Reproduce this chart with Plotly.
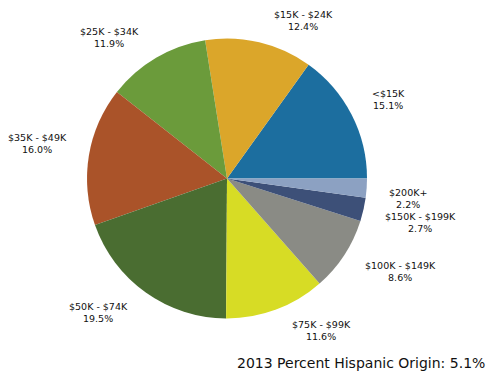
import math
import plotly.graph_objects as go

# ---- data ----
categories = ["<$15K", "$15K - $24K", "$25K - $34K", "$35K - $49K", "$50K - $74K",
              "$75K - $99K", "$100K - $149K", "$150K - $199K", "$200K+"]
percents = [15.1, 12.4, 11.9, 16.0, 19.5, 11.6, 8.6, 2.7, 2.2]
colors = ["#1C6E9F", "#DBA62A", "#6B9B3B", "#AA5329", "#4A6D31",
          "#D7DC25", "#8A8B85", "#3D5078", "#8CA1C2"]
footer_text = "2013 Percent Hispanic Origin: 5.1%"

# ---- layout geometry (pixels) ----
W, H = 489, 375
cx, cy, R = 227, 178.5, 140
lab_rx, lab_ry, gap = 150, 152, 10

total = sum(percents)
# plotly ends the first counterclockwise slice at the rotation angle;
# shift so the first slice starts at 3 o'clock
rotation = 90 - percents[0] / total * 360

fig = go.Figure()
fig.add_trace(go.Pie(
    labels=categories, values=percents, sort=False,
    direction="counterclockwise", rotation=rotation,
    marker=dict(colors=colors, line=dict(width=0)),
    textinfo="none", hoverinfo="label+percent", showlegend=False,
    domain=dict(x=[(cx - R) / W, (cx + R) / W],
                y=[1 - (cy + R) / H, 1 - (cy - R) / H]),
))

cum = 0.0
annotations = []
for cat, v in zip(categories, percents):
    mid = (cum + v / 2) / total * 2 * math.pi
    cum += v
    c, s = math.cos(mid), math.sin(mid)
    sx = 1 if c >= 0 else -1
    sy = 1 if s >= 0 else -1
    px = cx + lab_rx * c + sx * gap
    py = cy - lab_ry * s - sy * gap
    annotations.append(dict(
        x=px / W, y=1 - py / H, xref="paper", yref="paper",
        text=f"{cat}<br>{v:.1f}%", showarrow=False,
        xanchor="left" if sx > 0 else "right", yanchor="middle",
        align="center", font=dict(family="DejaVu Sans", size=9.5, color="#111111"),
    ))

annotations.append(dict(
    x=487 / W, y=1 - 363 / H, xref="paper", yref="paper",
    text=footer_text, showarrow=False, xanchor="right", yanchor="middle",
    font=dict(family="DejaVu Sans", size=14, color="#111111"),
))

fig.update_layout(
    width=W, height=H, margin=dict(l=0, r=0, t=0, b=0),
    paper_bgcolor="white", plot_bgcolor="white",
    annotations=annotations,
)
fig.write_html("out.html")
